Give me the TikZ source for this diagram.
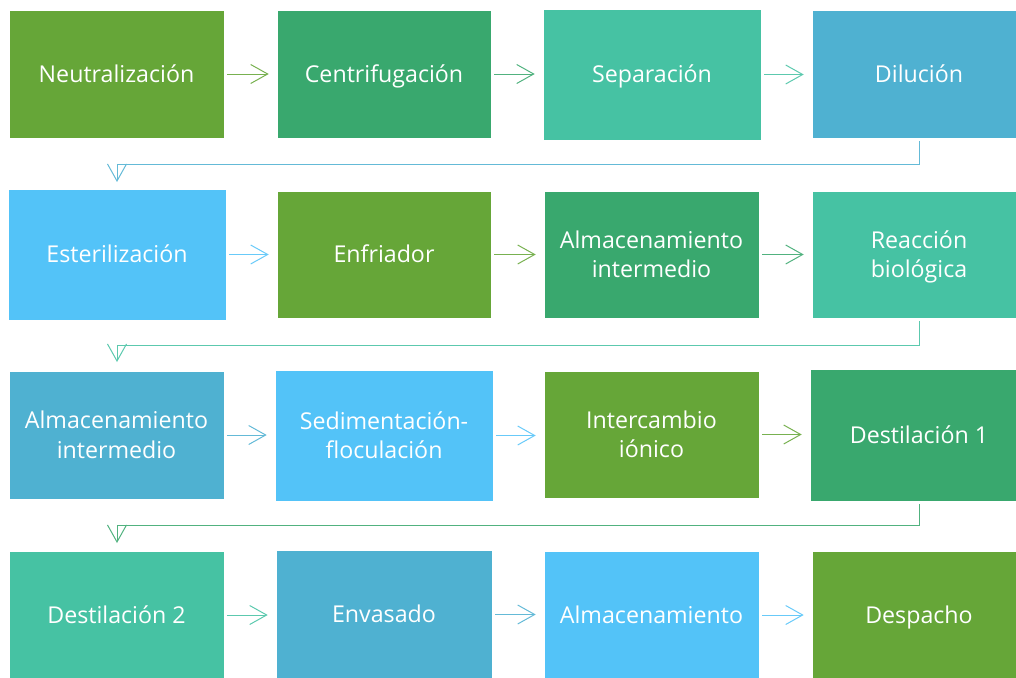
\documentclass[tikz,border=0pt]{standalone}
\usepackage{fontspec}
\setmainfont{Open Sans}
\usetikzlibrary{arrows.meta}
\definecolor{gA}{HTML}{66A638}
\definecolor{gB}{HTML}{39A86E}
\definecolor{gC}{HTML}{46C2A3}
\definecolor{bA}{HTML}{4FB1D1}
\definecolor{bB}{HTML}{53C3F8}
\tikzset{
  box/.style={rectangle, fill=#1, draw=white, line width=0.6pt, inner sep=0pt,
    text=white, font=\fontsize{23.2}{29.5}\selectfont},
  flow/.style={draw=#1!88!white, line width=1pt,
    -{Straight Barb[length=17pt,width=19pt,line width=1pt]}},
}
\newcommand{\tx}[1]{\raisebox{0pt}[\dimexpr\height+5pt\relax][\depth]{\begin{tabular}{@{}c@{}}#1\end{tabular}}}
\begin{document}
\begin{tikzpicture}[x=1pt,y=-1pt]
\useasboundingbox (0,0) rectangle (1016,677);
\clip (0,0) rectangle (1016,677);
% row 1
\node[box=gA, minimum width=215pt, minimum height=128pt] (n1) at (116.5,74) {\tx{Neutralización}};
\node[box=gB, minimum width=214pt, minimum height=128pt] (n2) at (384,74) {\tx{Centrifugación}};
\node[box=gC, minimum width=218pt, minimum height=131pt] (n3) at (652,74.5) {\tx{Separación}};
\node[box=bA, minimum width=214pt, minimum height=128pt] (n4) at (919,74) {\tx{Dilución}};
% row 2
\node[box=bB, minimum width=218pt, minimum height=131pt] (n5) at (117,254.5) {\tx{Esterilización}};
\node[box=gA, minimum width=214pt, minimum height=127pt] (n6) at (384,254.5) {\tx{Enfriador}};
\node[box=gB, minimum width=215pt, minimum height=127pt] (n7) at (651.5,254.5) {\tx{Almacenamiento\\intermedio}};
\node[box=gC, minimum width=214pt, minimum height=127pt] (n8) at (919,254.5) {\tx{Reacción\\biológica}};
% row 3
\node[box=bA, minimum width=215pt, minimum height=128pt] (n9) at (116.5,435) {\tx{Almacenamiento\\intermedio}};
\node[box=bB, minimum width=218pt, minimum height=131pt] (n10) at (384,435.5) {\tx{Sedimentación-\\floculación}};
\node[box=gA, minimum width=215pt, minimum height=127pt] (n11) at (651.5,434.5) {\tx{Intercambio\\iónico}};
\node[box=gB, minimum width=218pt, minimum height=132pt] (n12) at (919,435) {\tx{Destilación 1}};
% row 4
\node[box=gC, minimum width=215pt, minimum height=128pt] (n13) at (116.5,615) {\tx{Destilación 2}};
\node[box=bA, minimum width=216pt, minimum height=129pt] (n14) at (384,614.5) {\tx{Envasado}};
\node[box=bB, minimum width=215pt, minimum height=128pt] (n15) at (651.5,615) {\tx{Almacenamiento}};
\node[box=gA, minimum width=214pt, minimum height=128pt] (n16) at (919,615) {\tx{Despacho}};
% horizontal arrows
\foreach \a/\b/\c in {n1/n2/gA,n2/n3/gB,n3/n4/gC,
                      n5/n6/bB,n6/n7/gA,n7/n8/gB,
                      n9/n10/bA,n10/n11/bB,n11/n12/gA,
                      n13/n14/gC,n14/n15/bA,n15/n16/bB}
  \draw[flow=\c, shorten <=3pt, shorten >=8pt] (\a.east) -- (\a.east -| \b.west);
% row connectors
\coordinate (k1) at (919,164);
\coordinate (t1) at (117,182);
\coordinate (k2) at (919,345);
\coordinate (t2) at (117,362);
\coordinate (k3) at (919,525);
\coordinate (t3) at (117,543);
\draw[flow=bA, shorten <=3pt] (n4.south) -- (k1) -- (k1 -| t1) -- (t1);
\draw[flow=gC, shorten <=3pt] (n8.south) -- (k2) -- (k2 -| t2) -- (t2);
\draw[flow=gB, shorten <=3pt] (n12.south) -- (k3) -- (k3 -| t3) -- (t3);
\end{tikzpicture}
\end{document}
